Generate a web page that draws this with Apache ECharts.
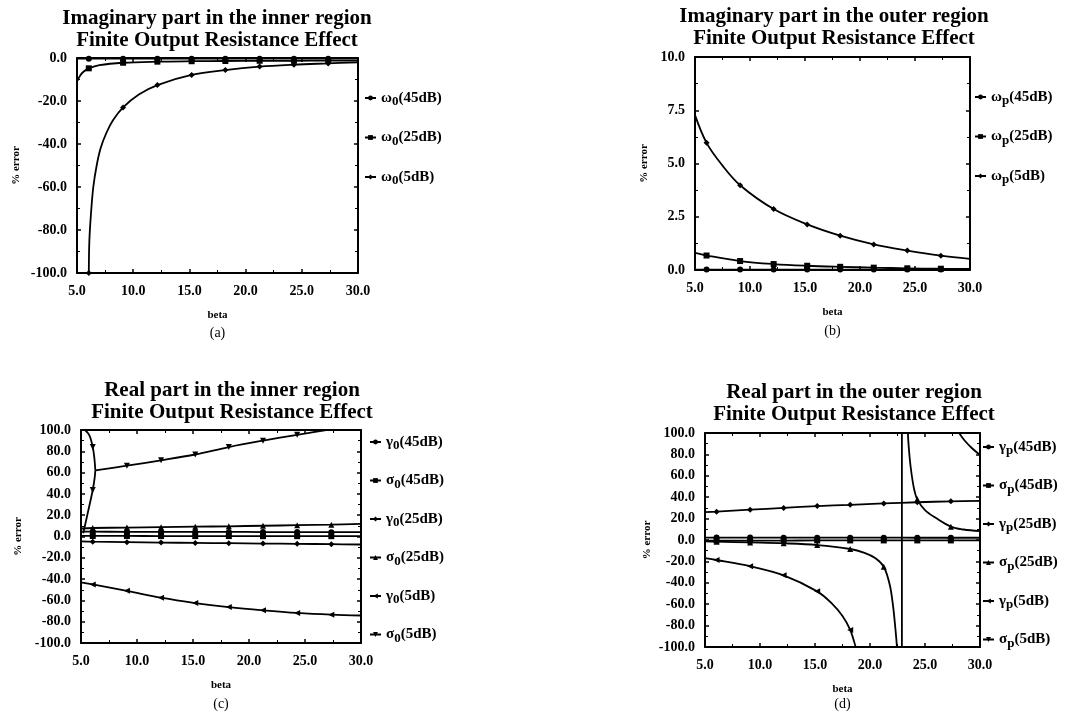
<!DOCTYPE html>
<html><head><meta charset="utf-8">
<script src="https://cdn.jsdelivr.net/npm/echarts/dist/echarts.min.js"></script>
<style>html,body{margin:0;padding:0;background:#fff}#c{width:1070px;height:714px}</style>
</head><body><div id="c"></div>
<script>
// ---- data (beta, % error) ----
const MARK_X = [6.05, 9.1, 12.15, 15.2, 18.2, 21.25, 24.3, 27.35];
const X_TICKS = [5, 30, 5];

// (a) Imaginary part, inner region
const a_names = ['ω0(45dB)', 'ω0(25dB)', 'ω0(5dB)'];
const a_w45 = [[5,-0.3],[6.05,-0.3],[9.1,-0.3],[12.15,-0.3],[15.2,-0.3],[18.2,-0.3],[21.25,-0.3],[24.3,-0.3],[27.35,-0.3],[30,-0.3]];
const a_w25 = [[5.05,-10.5],[5.3,-8],[5.6,-6.3],[6.05,-4.8],[7,-3.3],[9.1,-2.2],[12.15,-1.7],[15.2,-1.5],[18.2,-1.4],[21.25,-1.3],[24.3,-1.3],[27.35,-1.2],[30,-1.2]];
const a_w5 = [[6.05,-100],[6.1,-85],[6.25,-72],[6.45,-60],[6.75,-50],[7.1,-42],[7.6,-35],[8.2,-29],[9.1,-23],[10.5,-17],[12.15,-12.6],[15.2,-7.9],[18.2,-5.6],[21.25,-4],[24.3,-3.1],[27.35,-2.5],[30,-2.0]];

// (b) Imaginary part, outer region
const b_names = ['ωp(45dB)', 'ωp(25dB)', 'ωp(5dB)'];
const b_w45 = [[5,0.02],[6.05,0.02],[9.1,0.02],[12.15,0.02],[15.2,0.02],[18.2,0.02],[21.25,0.02],[24.3,0.02],[27.35,0.02],[30,0.02]];
const b_w25 = [[5,0.8],[6.05,0.68],[9.1,0.42],[12.15,0.28],[15.2,0.2],[18.2,0.15],[21.25,0.11],[24.3,0.08],[27.35,0.06],[30,0.05]];
const b_w5 = [[5,7.27],[6.05,5.97],[7.5,4.9],[9.1,3.98],[12.15,2.86],[15.2,2.14],[18.2,1.61],[21.25,1.2],[24.3,0.91],[27.35,0.67],[30,0.52]];

// (c) Real part, inner region
const c_names = ['γ0(45dB)', 'σ0(45dB)', 'γ0(25dB)', 'σ0(25dB)', 'γ0(5dB)', 'σ0(5dB)'];
const c_g45 = [[5,4.5],[6.05,4.5],[9.1,4.4],[12.15,4.4],[15.2,4.3],[18.2,4.3],[21.25,4.2],[24.3,4.2],[27.35,4.1],[30,4.1]];
const c_s45 = [[5,0.5],[6.05,0.5],[9.1,0.5],[12.15,0.4],[15.2,0.4],[18.2,0.4],[21.25,0.3],[24.3,0.3],[27.35,0.3],[30,0.3]];
const c_g25 = [[5,-4.6],[6.05,-4.9],[9.1,-5.3],[12.15,-5.7],[15.2,-6.0],[18.2,-6.3],[21.25,-6.6],[24.3,-6.9],[27.35,-7.2],[30,-7.5]];
const c_s25 = [[5,7.5],[6.05,8],[9.1,8.4],[12.15,8.8],[15.2,9.2],[18.2,9.6],[21.25,10.1],[24.3,10.6],[27.35,11.1],[30,11.8]];
const c_g5 = [[5,-43],[6.05,-45],[9.1,-51],[12.15,-57.5],[15.2,-62.5],[18.2,-66.3],[21.25,-69.3],[24.3,-71.8],[27.35,-73.4],[30,-74.2]];
const c_s5_main = [[6.28,62],[9.1,66.5],[12.15,71.5],[15.2,77],[18.2,84],[21.25,90],[24.3,95.5],[27.35,100.5],[30,104]];
const c_s5_top = [[5.36,100],[5.75,95],[6.05,84],[6.2,73],[6.28,62]];
const c_s5_low = [[5.2,3],[5.6,22],[6.05,43.7],[6.22,55],[6.28,62]];

// (d) Real part, outer region
const d_names = ['γp(45dB)', 'σp(45dB)', 'γp(25dB)', 'σp(25dB)', 'γp(5dB)', 'σp(5dB)'];
const d_g45 = [[5,2.3],[6.05,2.3],[9.1,2.3],[12.15,2.2],[15.2,2.2],[18.2,2.2],[21.25,2.2],[24.3,2.1],[27.35,2.1],[30,2.1]];
const d_s45 = [[5,-0.5],[6.05,-0.5],[9.1,-0.5],[12.15,-0.5],[15.2,-0.4],[18.2,-0.4],[21.25,-0.4],[24.3,-0.4],[27.35,-0.4],[30,-0.4]];
const d_g25 = [[5,26],[6.05,26.5],[9.1,28.3],[12.15,30],[15.2,31.7],[18.2,32.9],[21.25,34.2],[24.3,35.3],[27.35,36.1],[30,36.6]];
const d_s25_left = [[5,-1.2],[6.05,-1.6],[9.1,-2.3],[12.15,-3.1],[15.2,-4.7],[18.2,-8.4],[19.5,-12],[20.5,-17],[21.25,-25],[21.8,-42],[22.1,-62],[22.3,-82],[22.45,-100],[22.55,-120]];
const d_s25_jump = [[22.55,-120],[22.9,-2000],[22.9,2000],[23.4,110]];
const d_s25_right = [[23.4,110],[23.5,90],[23.7,68],[24.0,48],[24.3,38],[25,28],[26,20.5],[27.35,12.5],[28.5,9.8],[30,8.3]];
const d_g5 = [[5,-17],[6.05,-18.7],[9.1,-24.5],[12.15,-33],[15.2,-48],[16.5,-59],[17.5,-71],[18.2,-84],[18.7,-100],[18.8,-104]];
const d_s5 = [[28.1,100],[28.6,93],[29.3,85.5],[30,79.5]];

// ---- chart ----
const SERIF = '"Liberation Serif","DejaVu Serif",serif';
const SYM = [
  {symbol:'circle', rot:0}, {symbol:'rect', rot:0}, {symbol:'diamond', rot:0},
  {symbol:'triangle', rot:0}, {symbol:'triangle', rot:90}, {symbol:'triangle', rot:180}
];
const panels = [
  {grid:[77,58,281,215], y:[-100,0,20], title:['Imaginary part in the inner region','Finite Output Resistance Effect'], tx:217, ty:8,
   cap:'(a)', capY:326, yGap:55, leg:[364,89], lgap:20, names:a_names,
   series:[[a_w45],[a_w25],[a_w5]]},
  {grid:[695,57,275,213], y:[0,10,2.5], title:['Imaginary part in the outer region','Finite Output Resistance Effect'], tx:834, ty:6,
   cap:'(b)', capY:324, yGap:45, leg:[974,88], lgap:20, names:b_names,
   series:[[b_w45],[b_w25],[b_w5]]},
  {grid:[81,430,280,213], y:[-100,100,20], title:['Real part in the inner region','Finite Output Resistance Effect'], tx:232, ty:380,
   cap:'(c)', capY:697, yGap:57, leg:[369,433], lgap:19, names:c_names,
   series:[[c_g45],[c_s45],[c_g25],[c_s25],[c_g5],[c_s5_main,c_s5_top,c_s5_low]]},
  {grid:[705,433,275,214], y:[-100,100,20], title:['Real part in the outer region','Finite Output Resistance Effect'], tx:854, ty:382,
   cap:'(d)', capY:697, yGap:52, leg:[982,438], lgap:19, names:d_names,
   series:[[d_g45],[d_s45],[d_g25],[d_s25_left,d_s25_jump,d_s25_right],[d_g5],[d_s5]]}
];

const isMark = x => MARK_X.some(m => Math.abs(m - x) < 1e-9);
const option = {animation:false, backgroundColor:'#fff', title:[], legend:[], grid:[], xAxis:[], yAxis:[], series:[]};
const lineAx = {show:true, onZero:false, lineStyle:{color:'#000', width:2}};
const tick = {show:true, inside:true, length:4, lineStyle:{color:'#000', width:1.5}};
const minor = {show:true, splitNumber:2, length:3, lineStyle:{color:'#000', width:1}};
const lbl = {fontFamily:SERIF, fontWeight:'bold', fontSize:14, color:'#000'};

panels.forEach((p, gi) => {
  option.grid.push({left:p.grid[0], top:p.grid[1], width:p.grid[2], height:p.grid[3]});
  const xi = option.xAxis.length, yi = option.yAxis.length;
  [true, false].forEach(main => {
    option.xAxis.push({type:'value', gridIndex:gi, min:X_TICKS[0], max:X_TICKS[1], interval:X_TICKS[2],
      position: main ? 'bottom' : 'top', axisLine:lineAx, axisTick:tick, minorTick:minor,
      splitLine:{show:false}, minorSplitLine:{show:false},
      axisLabel:Object.assign({show:main, margin:11, formatter:v => v.toFixed(1)}, lbl),
      name: main ? 'beta' : '', nameLocation:'middle', nameGap:37,
      nameTextStyle:{fontFamily:SERIF, fontWeight:'bold', fontSize:11, color:'#000'}});
    option.yAxis.push({type:'value', gridIndex:gi, min:p.y[0], max:p.y[1], interval:p.y[2],
      position: main ? 'left' : 'right', axisLine:lineAx, axisTick:tick, minorTick:minor,
      splitLine:{show:false}, minorSplitLine:{show:false},
      axisLabel:Object.assign({show:main, margin:10, formatter:v => v.toFixed(1)}, lbl),
      name: main ? '% error' : '', nameLocation:'middle', nameGap:p.yGap,
      nameTextStyle:{fontFamily:SERIF, fontWeight:'bold', fontSize:11, color:'#000'}});
  });
  option.title.push({text:p.title.join('\n'), left:p.tx, top:p.ty, textAlign:'center', padding:0,
    textStyle:{fontFamily:SERIF, fontWeight:'bold', fontSize:21, lineHeight:22, color:'#000'}});
  option.title.push({text:p.cap, left:p.grid[0] + p.grid[2]/2, top:p.capY, textAlign:'center', padding:0,
    textStyle:{fontFamily:SERIF, fontWeight:'normal', fontSize:14, color:'#000'}});
  option.legend.push({data:p.names, orient:'vertical', left:p.leg[0], top:p.leg[1], itemGap:p.lgap, padding:0,
    itemWidth:11, itemHeight:6, selectedMode:false,
    formatter: n => `{n|${n[0]}}{s|${n[1]}}{n|${n.slice(2)}}`,
    textStyle:{fontFamily:SERIF, fontWeight:'bold', fontSize:15, color:'#000', lineHeight:18,
      rich:{n:{fontFamily:SERIF, fontWeight:'bold', fontSize:15, color:'#000'},
            s:{fontFamily:SERIF, fontWeight:'bold', fontSize:13, color:'#000', padding:[8,0,0,0]}}}});
  p.series.forEach((parts, si) => {
    const s = SYM[si];
    parts.forEach(arr => {
      const jump = arr === d_s25_jump;
      option.series.push({type:'line', name:p.names[si], xAxisIndex:xi, yAxisIndex:yi,
        smooth: jump ? false : 0.35, clip:true, symbol:s.symbol, symbolRotate:s.rot, symbolSize:6,
        showSymbol:true, legendHoverLink:false,
        lineStyle:{color:'#000', width:1.8}, itemStyle:{color:'#000'},
        emphasis:{disabled:true},
        data: arr.map(pt => isMark(pt[0]) && !jump ? {value:pt} : {value:pt, symbol:'none'})});
    });
  });
});

const chart = echarts.init(document.getElementById('c'), null, {renderer:'canvas'});
chart.setOption(option);
</script></body></html>
